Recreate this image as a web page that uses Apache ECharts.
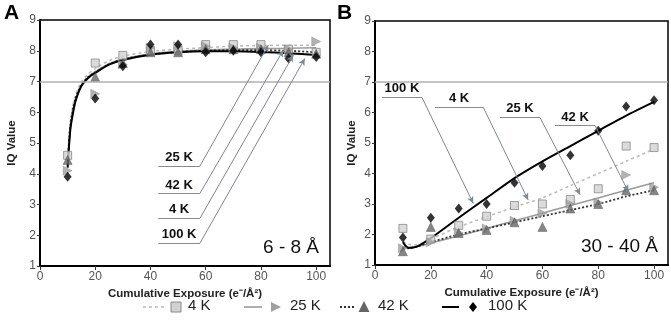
<!DOCTYPE html>
<html>
<head>
<meta charset="utf-8">
<script src="https://cdn.jsdelivr.net/npm/echarts@6/dist/echarts.min.js"></script>
<style>html,body{margin:0;padding:0;background:#fff}#c{width:671px;height:323px}</style>
</head>
<body>
<div id="c"></div>
<script>
// ---- data ----
const exposure = [10, 20, 30, 40, 50, 60, 70, 80, 90, 100];
const seriesNames = ['4 K', '25 K', '42 K', '100 K'];

// Panel A (6 - 8 Å) measured IQ values
const a4K   = [4.6, 7.6, 7.85, 8.0, 8.0, 8.2, 8.2, 8.2, 8.05, 7.95];
const a25K  = [4.1, 6.6, 7.55, 8.1, 8.15, 8.15, 8.1, 8.1, 8.05, 8.3];
const a42K  = [4.45, 7.15, 7.6, 7.95, 7.95, 8.05, 8.05, 8.05, 7.95, 7.9];
const a100K = [3.9, 6.45, 7.5, 8.2, 8.2, 7.95, 8.0, 7.95, 7.75, 7.8];
// Panel A trend lines
const trendXA = [10, 11, 12, 13, 15, 17.5, 20, 25, 30, 40, 50, 60, 70, 80, 90, 100];
const aT4K   = [4.5, 5.7, 6.25, 6.6, 7.0, 7.25, 7.42, 7.68, 7.82, 7.98, 8.05, 8.1, 8.15, 8.17, 8.18, 8.18];
const aT25K  = [4.3, 5.5, 6.05, 6.45, 6.88, 7.15, 7.32, 7.58, 7.73, 7.9, 7.98, 8.03, 8.05, 8.07, 8.08, 8.1];
const aT42K  = [4.4, 5.6, 6.15, 6.5, 6.9, 7.15, 7.3, 7.56, 7.72, 7.88, 7.96, 8.0, 8.02, 8.02, 8.0, 7.95];
const aT100K = [4.2, 5.45, 6.0, 6.4, 6.85, 7.12, 7.28, 7.55, 7.7, 7.87, 7.95, 7.98, 7.98, 7.96, 7.92, 7.86];

// Panel B (30 - 40 Å) measured IQ values
const b4K   = [2.2, 1.85, 2.3, 2.6, 2.95, 3.0, 3.15, 3.5, 4.9, 4.85];
const b25K  = [1.55, 1.75, 2.05, 2.2, 2.45, 2.7, 3.0, 3.05, 3.95, 3.55];
const b42K  = [1.45, 2.25, 2.05, 2.15, 2.4, 2.25, 2.85, 3.0, 3.45, 3.45];
const b100K = [1.9, 2.55, 2.85, 3.0, 3.7, 4.25, 4.6, 5.4, 6.2, 6.4];
// Panel B trend lines
const trendXB = [10, 12, 15, 20, 30, 40, 50, 60, 70, 80, 90, 100];
const bT4K   = [1.78, 1.68, 1.66, 1.85, 2.25, 2.58, 2.9, 3.2, 3.6, 4.0, 4.4, 4.8];
const bT25K  = [1.6, 1.58, 1.6, 1.72, 1.95, 2.2, 2.45, 2.7, 2.95, 3.2, 3.45, 3.7];
const bT42K  = [1.55, 1.55, 1.6, 1.75, 2.0, 2.2, 2.4, 2.6, 2.8, 3.0, 3.25, 3.45];
const bT100K = [1.75, 1.56, 1.6, 1.88, 2.55, 3.2, 3.85, 4.4, 4.9, 5.4, 5.9, 6.35];

// Annotation callouts: [label, underlineStartX, underlineEndX, underlineY, tipX, tipY]
const annoA = [
  ['25 K', 42.8, 57.9, 4.25, 82.7, 8.19],
  ['42 K', 42.8, 57.9, 3.36, 88.1, 8.02],
  ['4 K', 42.8, 57.9, 2.55, 91.7, 7.86],
  ['100 K', 42.8, 57.9, 1.74, 95.9, 7.75]
];
const annoB = [
  ['100 K', 2.5, 16.8, 6.5, 35.2, 3.02],
  ['4 K', 21.5, 38.8, 6.17, 54.9, 3.13],
  ['25 K', 44.8, 59.1, 5.84, 73.5, 3.30],
  ['42 K', 64.5, 78.9, 5.57, 90.8, 3.40]
];
const thresholdIQ = 7;

// ---- chart ----
const FONT = 'Liberation Sans, Arial, sans-serif';
const pts = (xv, yv) => xv.map((x, i) => [x, yv[i]]);

const markerStyles = [
  { symbol: 'rect', symbolSize: 8, symbolRotate: 0, itemStyle: { color: '#d2d2d2', borderColor: '#8a8a8a', borderWidth: 1 } },
  { symbol: 'triangle', symbolSize: 9, symbolRotate: -90, itemStyle: { color: '#a0a0a0', borderColor: '#888', borderWidth: 0.5 } },
  { symbol: 'triangle', symbolSize: 9, symbolRotate: 0, itemStyle: { color: '#666', borderColor: '#444', borderWidth: 0.5 } },
  { symbol: 'diamond', symbolSize: [8, 10], symbolRotate: 0, itemStyle: { color: '#000' } }
];
const lineStyles = [
  { color: '#bdbdbd', width: 1.6, type: [3, 3] },
  { color: '#9a9a9a', width: 1.6, type: 'solid' },
  { color: '#333', width: 1.8, type: [2, 2] },
  { color: '#000', width: 2, type: 'solid' }
];

function annoMarkLines(anno) {
  const out = [{
    yAxis: thresholdIQ, symbol: 'none',
    lineStyle: { color: '#b0b0b0', width: 1.5, type: 'solid' }, label: { show: false }
  }];
  anno.forEach(a => {
    out.push([
      { coord: [a[1], a[3]], symbol: 'none', lineStyle: { color: '#8a8a8a', width: 1, type: 'solid' },
        label: { show: true, position: 'insideMiddleTop', distance: 2, formatter: a[0],
                 color: '#111', fontWeight: 'bold', fontSize: 13, fontFamily: FONT } },
      { coord: [a[2], a[3]], symbol: 'none' }
    ]);
    out.push([
      { coord: [a[2], a[3]], symbol: 'none', lineStyle: { color: '#7f8790', width: 1, type: 'solid' }, label: { show: false } },
      { coord: [a[4], a[5]], symbol: 'arrow', symbolSize: [5, 7] }
    ]);
  });
  return out;
}

function panelSeries(gi, measured, trendX, trends, anno) {
  const s = [];
  trends.forEach((t, i) => {
    const ser = {
      type: 'line', name: seriesNames[i], xAxisIndex: gi, yAxisIndex: gi,
      data: pts(trendX, t), showSymbol: false, smooth: 0.25, z: 2,
      lineStyle: lineStyles[i], silent: true
    };
    if (i === 3) {
      ser.markLine = {
        silent: true, symbol: ['none', 'none'], animation: false,
        data: annoMarkLines(anno)
      };
    }
    s.push(ser);
  });
  measured.forEach((m, i) => {
    s.push(Object.assign({
      type: 'scatter', name: seriesNames[i], xAxisIndex: gi, yAxisIndex: gi,
      data: pts(exposure, m), z: 3
    }, markerStyles[i]));
  });
  return s;
}

function xAxisCfg(gi) {
  return {
    type: 'value', gridIndex: gi, min: 0, max: 105, interval: 20,
    name: 'Cumulative Exposure (e\u207B/\u00C5\u00B2)', nameLocation: 'middle', nameGap: 18,
    nameTextStyle: { fontSize: 11.5, fontWeight: 'bold', color: '#222', fontFamily: FONT },
    axisLine: { show: true, lineStyle: { color: '#000', width: 2 } },
    axisTick: { show: true, length: 4, lineStyle: { color: '#333' } },
    axisLabel: { fontSize: 12, color: '#555', margin: 5, fontFamily: FONT },
    splitLine: { show: false }
  };
}
function yAxisCfg(gi, gap) {
  return {
    type: 'value', gridIndex: gi, min: 1, max: 9, interval: 1,
    name: 'IQ Value', nameLocation: 'middle', nameGap: gap,
    nameTextStyle: { fontSize: 11.5, fontWeight: 'bold', color: '#222', fontFamily: FONT },
    axisLine: { show: true, lineStyle: { color: '#000', width: 2 } },
    axisTick: { show: true, length: 3, lineStyle: { color: '#333' } },
    axisLabel: { fontSize: 12, color: '#555', margin: 4, fontFamily: FONT },
    splitLine: { show: false }
  };
}

const legendY = 307;
const legendItems = [
  { x1: 143, x2: 165, lstyle: lineStyles[0], mx: 176, text: '4 K', tx: 188 },
  { x1: 244, x2: 262, lstyle: lineStyles[1], mx: 276, text: '25 K', tx: 290 },
  { x1: 340, x2: 354, lstyle: lineStyles[2], mx: 364, text: '42 K', tx: 378 },
  { x1: 442, x2: 459, lstyle: lineStyles[3], mx: 473, text: '100 K', tx: 488 }
];
const graphics = [];
legendItems.forEach((it, i) => {
  graphics.push({ type: 'line', shape: { x1: it.x1, y1: legendY, x2: it.x2, y2: legendY },
    style: { stroke: it.lstyle.color, lineWidth: it.lstyle.width, lineDash: Array.isArray(it.lstyle.type) ? it.lstyle.type : null } });
  const ms = markerStyles[i];
  if (ms.symbol === 'rect') {
    graphics.push({ type: 'rect', shape: { x: it.mx - 5, y: legendY - 5, width: 10, height: 10 },
      style: { fill: '#d2d2d2', stroke: '#8a8a8a', lineWidth: 1 } });
  } else if (ms.symbol === 'triangle' && ms.symbolRotate === -90) {
    graphics.push({ type: 'polygon', shape: { points: [[it.mx - 5, legendY - 5], [it.mx + 5, legendY], [it.mx - 5, legendY + 5]] },
      style: { fill: '#a0a0a0' } });
  } else if (ms.symbol === 'triangle') {
    graphics.push({ type: 'polygon', shape: { points: [[it.mx, legendY - 6], [it.mx + 5.5, legendY + 5], [it.mx - 5.5, legendY + 5]] },
      style: { fill: '#666' } });
  } else {
    graphics.push({ type: 'polygon', shape: { points: [[it.mx, legendY - 5], [it.mx + 4, legendY], [it.mx, legendY + 5], [it.mx - 4, legendY]] },
      style: { fill: '#000' } });
  }
  graphics.push({ type: 'text', left: it.tx, top: legendY - 9,
    style: { text: it.text, font: '15px ' + FONT, fill: '#222' } });
});
graphics.push({ type: 'text', left: 4, top: 3, style: { text: 'A', font: 'bold 21px ' + FONT, fill: '#000' } });
graphics.push({ type: 'text', left: 337, top: 3, style: { text: 'B', font: 'bold 21px ' + FONT, fill: '#000' } });
graphics.push({ type: 'text', right: 671 - 319, top: 238, style: { text: '6 - 8 \u00C5', font: '19px ' + FONT, fill: '#111', textAlign: 'right' } });
graphics.push({ type: 'text', right: 671 - 658, top: 237, style: { text: '30 - 40 \u00C5', font: '19px ' + FONT, fill: '#111', textAlign: 'right' } });

const chart = echarts.init(document.getElementById('c'), null, { renderer: 'canvas' });
chart.setOption({
  animation: false,
  backgroundColor: '#fff',
  textStyle: { fontFamily: FONT },
  grid: [
    { left: 40, top: 20, width: 290, height: 246, show: true, borderColor: '#000', borderWidth: 1.5, backgroundColor: 'transparent' },
    { left: 375, top: 21, width: 293, height: 244, show: true, borderColor: '#000', borderWidth: 1.5, backgroundColor: 'transparent' }
  ],
  xAxis: [xAxisCfg(0), xAxisCfg(1)],
  yAxis: [yAxisCfg(0, 22), yAxisCfg(1, 17)],
  series: [].concat(
    panelSeries(0, [a4K, a25K, a42K, a100K], trendXA, [aT4K, aT25K, aT42K, aT100K], annoA),
    panelSeries(1, [b4K, b25K, b42K, b100K], trendXB, [bT4K, bT25K, bT42K, bT100K], annoB)
  ),
  graphic: graphics
});
</script>
</body>
</html>
